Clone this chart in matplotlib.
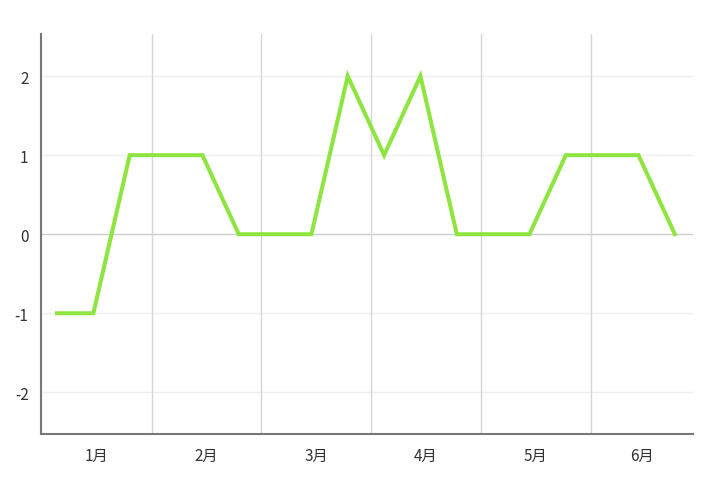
import numpy as np
import matplotlib
matplotlib.use("Agg")
import matplotlib.pyplot as plt

plt.rcParams['font.family'] = ['Noto Sans CJK JP', 'DejaVu Sans']

months = ['1月', '2月', '3月', '4月', '5月', '6月']
values = [-1, -1, 1, 1, 1, 0, 0, 0, 2, 1, 2, 0, 0, 0, 1, 1, 1, 0]
y_ticks = [-2, -1, 0, 1, 2]

fig = plt.figure(figsize=(7.2, 4.89), dpi=100)
ax = fig.add_axes([0.057, 0.110, 0.9055, 0.818])

per_month = len(values) // len(months)
x = np.arange(len(values))
x_lo, x_hi = -0.44, len(values) - 0.5
bounds = [x_lo] + [per_month * k - 0.42 + 0.02 * k for k in range(1, len(months))] + [x_hi]

# grid
for yv in y_ticks:
    ax.axhline(yv, color='#cccccc' if yv == 0 else '#efefef', lw=1.0, zorder=1)
for b in bounds[1:-1]:
    ax.axvline(b, color='#d6d6d6', lw=1.0, zorder=1)

ax.plot(x, values, color='#8ee53f', lw=2.9, solid_joinstyle='miter', zorder=3)

ax.set_xlim(x_lo, x_hi)
ax.set_ylim(-2.53, 2.53)
ax.set_yticks(y_ticks)
ax.set_yticklabels([str(v) for v in y_ticks])
centers = [(bounds[i] + bounds[i + 1]) / 2 for i in range(len(months))]
ax.set_xticks(centers)
ax.set_xticklabels(months)
ax.tick_params(axis='both', length=0, labelsize=11, colors='#333333')
ax.tick_params(axis='x', pad=9)
ax.tick_params(axis='y', pad=9)

for s in ['top', 'right']:
    ax.spines[s].set_visible(False)
for s in ['left', 'bottom']:
    ax.spines[s].set_color('#777777')
    ax.spines[s].set_linewidth(1.5)

fig.savefig('out.png', dpi=100, facecolor='white')
